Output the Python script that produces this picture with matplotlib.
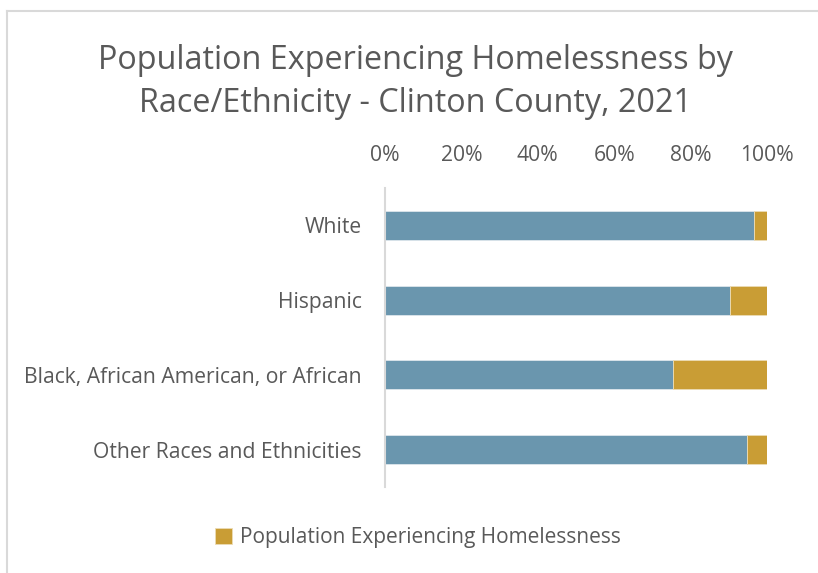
import matplotlib.pyplot as plt
from matplotlib.lines import Line2D

plt.rcParams['font.family'] = ['Open Sans', 'DejaVu Sans']

categories = ["White", "Hispanic", "Black, African American, or African",
              "Other Races and Ethnicities"]
# share of general population (blue) vs population experiencing homelessness (gold)
general_pop = [0.965, 0.904, 0.755, 0.948]
homeless_pop = [0.035, 0.096, 0.245, 0.052]
tick_vals = [0, 0.2, 0.4, 0.6, 0.8, 1.0]
tick_labels = ["0%", "20%", "40%", "60%", "80%", "100%"]

blue = "#6A96AE"
gold = "#C99D35"
txt = "#595959"

fig = plt.figure(figsize=(8.18, 5.73), dpi=100)
ax = fig.add_axes([385/818, 1-487/573, 382/818, 299/573])

y = list(range(len(categories)))
ax.barh(y, general_pop, height=0.39, color=blue, edgecolor="#dde6ec", linewidth=0.6)
ax.barh(y, homeless_pop, left=general_pop, height=0.39, color=gold,
        edgecolor="#ecdcb5", linewidth=0.6, label="Population Experiencing Homelessness")

ax.set_ylim(3.5, -0.5)
ax.set_xlim(0, 1)
ax.set_yticks(y)
ax.set_yticklabels(categories, fontsize=15.2, color=txt)
ax.set_xticks(tick_vals)
ax.set_xticklabels(tick_labels, fontsize=15.2, color=txt)
ax.xaxis.tick_top()
ax.tick_params(axis="both", length=0)
ax.tick_params(axis="x", pad=15.5)
ax.tick_params(axis="y", pad=17)
for s in ["top", "right", "bottom"]:
    ax.spines[s].set_visible(False)
ax.spines["left"].set_color("#d9d9d9")
ax.spines["left"].set_linewidth(1.5)

fig.text(415/818, 1-82/573, "Population Experiencing Homelessness by\nRace/Ethnicity - Clinton County, 2021",
         ha="center", va="center", fontsize=23.3, color=txt, linespacing=1.38)

fig.legend(loc="center", bbox_to_anchor=(418/818, 1-538/573), frameon=False,
           fontsize=15, labelcolor=txt, handlelength=0.8, handleheight=0.8,
           handletextpad=0.4)

# chart frame
fig.add_artist(Line2D([7/818, 7/818], [0, 1-11/573], color="#d9d9d9", lw=1.5))
fig.add_artist(Line2D([7/818, 1], [1-11/573, 1-11/573], color="#d9d9d9", lw=1.5))

fig.savefig("out.png", dpi=100)
